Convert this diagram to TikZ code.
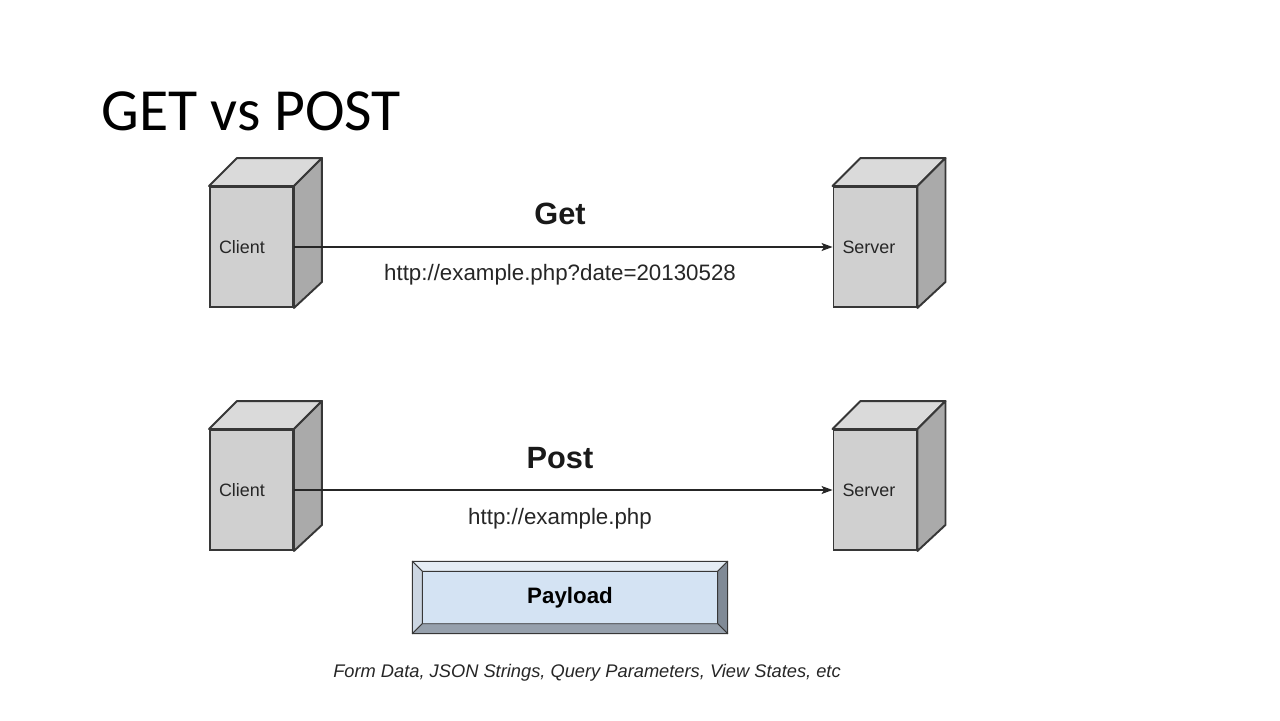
\documentclass[tikz,border=0pt]{standalone}
\usepackage{fontspec}
\setmainfont{Liberation Sans}
\newfontfamily\slidefont{Carlito}
\usetikzlibrary{arrows.meta, positioning, calc}
\definecolor{edgegray}{RGB}{55,55,55}
\definecolor{cubefront}{RGB}{208,208,208}
\definecolor{cubetop}{RGB}{218,218,218}
\definecolor{cubeside}{RGB}{170,170,170}
\definecolor{payface}{RGB}{212,227,243}
\definecolor{paytop}{RGB}{228,236,244}
\definecolor{payleft}{RGB}{204,214,226}
\definecolor{payright}{RGB}{128,138,150}
\definecolor{paybottom}{RGB}{150,160,172}

\begin{document}
\begin{tikzpicture}[x=0.02cm, y=-0.02cm,
    cube/.style={rectangle, draw=edgegray, fill=cubefront, line width=1.1pt,
      minimum height=2.4cm, text width=1.3cm, inner xsep=0.18cm, align=left,
      text=black!85, font=\fontsize{10.2}{12}\selectfont},
    face/.style={draw=edgegray, line width=1.1pt, line join=round},
    arrow/.style={-{Stealth[length=2.2mm, width=1.6mm, inset=0.5mm]}, line width=0.6pt, black!85},
    verb/.style={font=\fontsize{17.5}{20}\selectfont\bfseries, text=black!90},
    url/.style={font=\fontsize{12.7}{15}\selectfont, text=black!85},
    payload/.style={rectangle, draw=edgegray, fill=payface, line width=0.8pt,
      minimum width=6.28cm, minimum height=1.42cm,
      font=\fontsize{12.7}{15}\selectfont\bfseries},
    bevel/.style={draw=edgegray, line width=0.5pt, line join=round}]
  \useasboundingbox[fill=white] (0,0) rectangle (1280,720);
  \node[anchor=base west, inner sep=0, font=\slidefont\fontsize{34}{40}\selectfont] (title) at (101,130) {GET vs POST};
  % machines
  \node[cube] (client1) at (251.5,247) {Client};
  \node[cube] (server1) at (875,247) {Server};
  \node[cube] (client2) at (251.5,490) {Client};
  \node[cube] (server2) at (875,490) {Server};
  \foreach \b in {client1, server1, client2, server2} {
    \draw[face, fill=cubetop] (\b.north west) -- ++(28,-28) -- ($(\b.north east)+(28,-28)$) -- (\b.north east) -- cycle;
    \draw[face, fill=cubeside] (\b.north east) -- ++(28,-28) -- ($(\b.south east)+(28,-26)$) -- (\b.south east) -- cycle;
  }
  \draw[arrow] (client1) -- (server1);
  \draw[arrow] (client2) -- (server2);
  \node[verb] (get) at (560,214) {Get};
  \node[url] (geturl) at (560,275) {http://example.php?date=20130528};
  \node[verb] (post) at (560,458) {Post};
  \node[url] (posturl) at (560,519) {http://example.php};
  % payload button
  \node[payload] (payload) at (570,597.5) {\raisebox{-2pt}{Payload}};
  \coordinate (pnw) at ($(payload.north west)+(10,10)$);
  \coordinate (pne) at ($(payload.north east)+(-10,10)$);
  \coordinate (psw) at ($(payload.south west)+(10,-10)$);
  \coordinate (pse) at ($(payload.south east)+(-10,-10)$);
  \draw[bevel, fill=paytop] (payload.north west) -- (payload.north east) -- (pne) -- (pnw) -- cycle;
  \draw[bevel, fill=payleft] (payload.north west) -- (pnw) -- (psw) -- (payload.south west) -- cycle;
  \draw[bevel, fill=payright] (payload.north east) -- (payload.south east) -- (pse) -- (pne) -- cycle;
  \draw[bevel, fill=paybottom] (payload.south west) -- (psw) -- (pse) -- (payload.south east) -- cycle;
  \draw[edgegray, line width=0.8pt] (payload.north west) rectangle (payload.south east);
  \node[font=\fontsize{10.4}{12}\selectfont\itshape, text=black!85] (formats) at (587,673) {Form Data, JSON Strings, Query Parameters, View States, etc};
\end{tikzpicture}
\end{document}
